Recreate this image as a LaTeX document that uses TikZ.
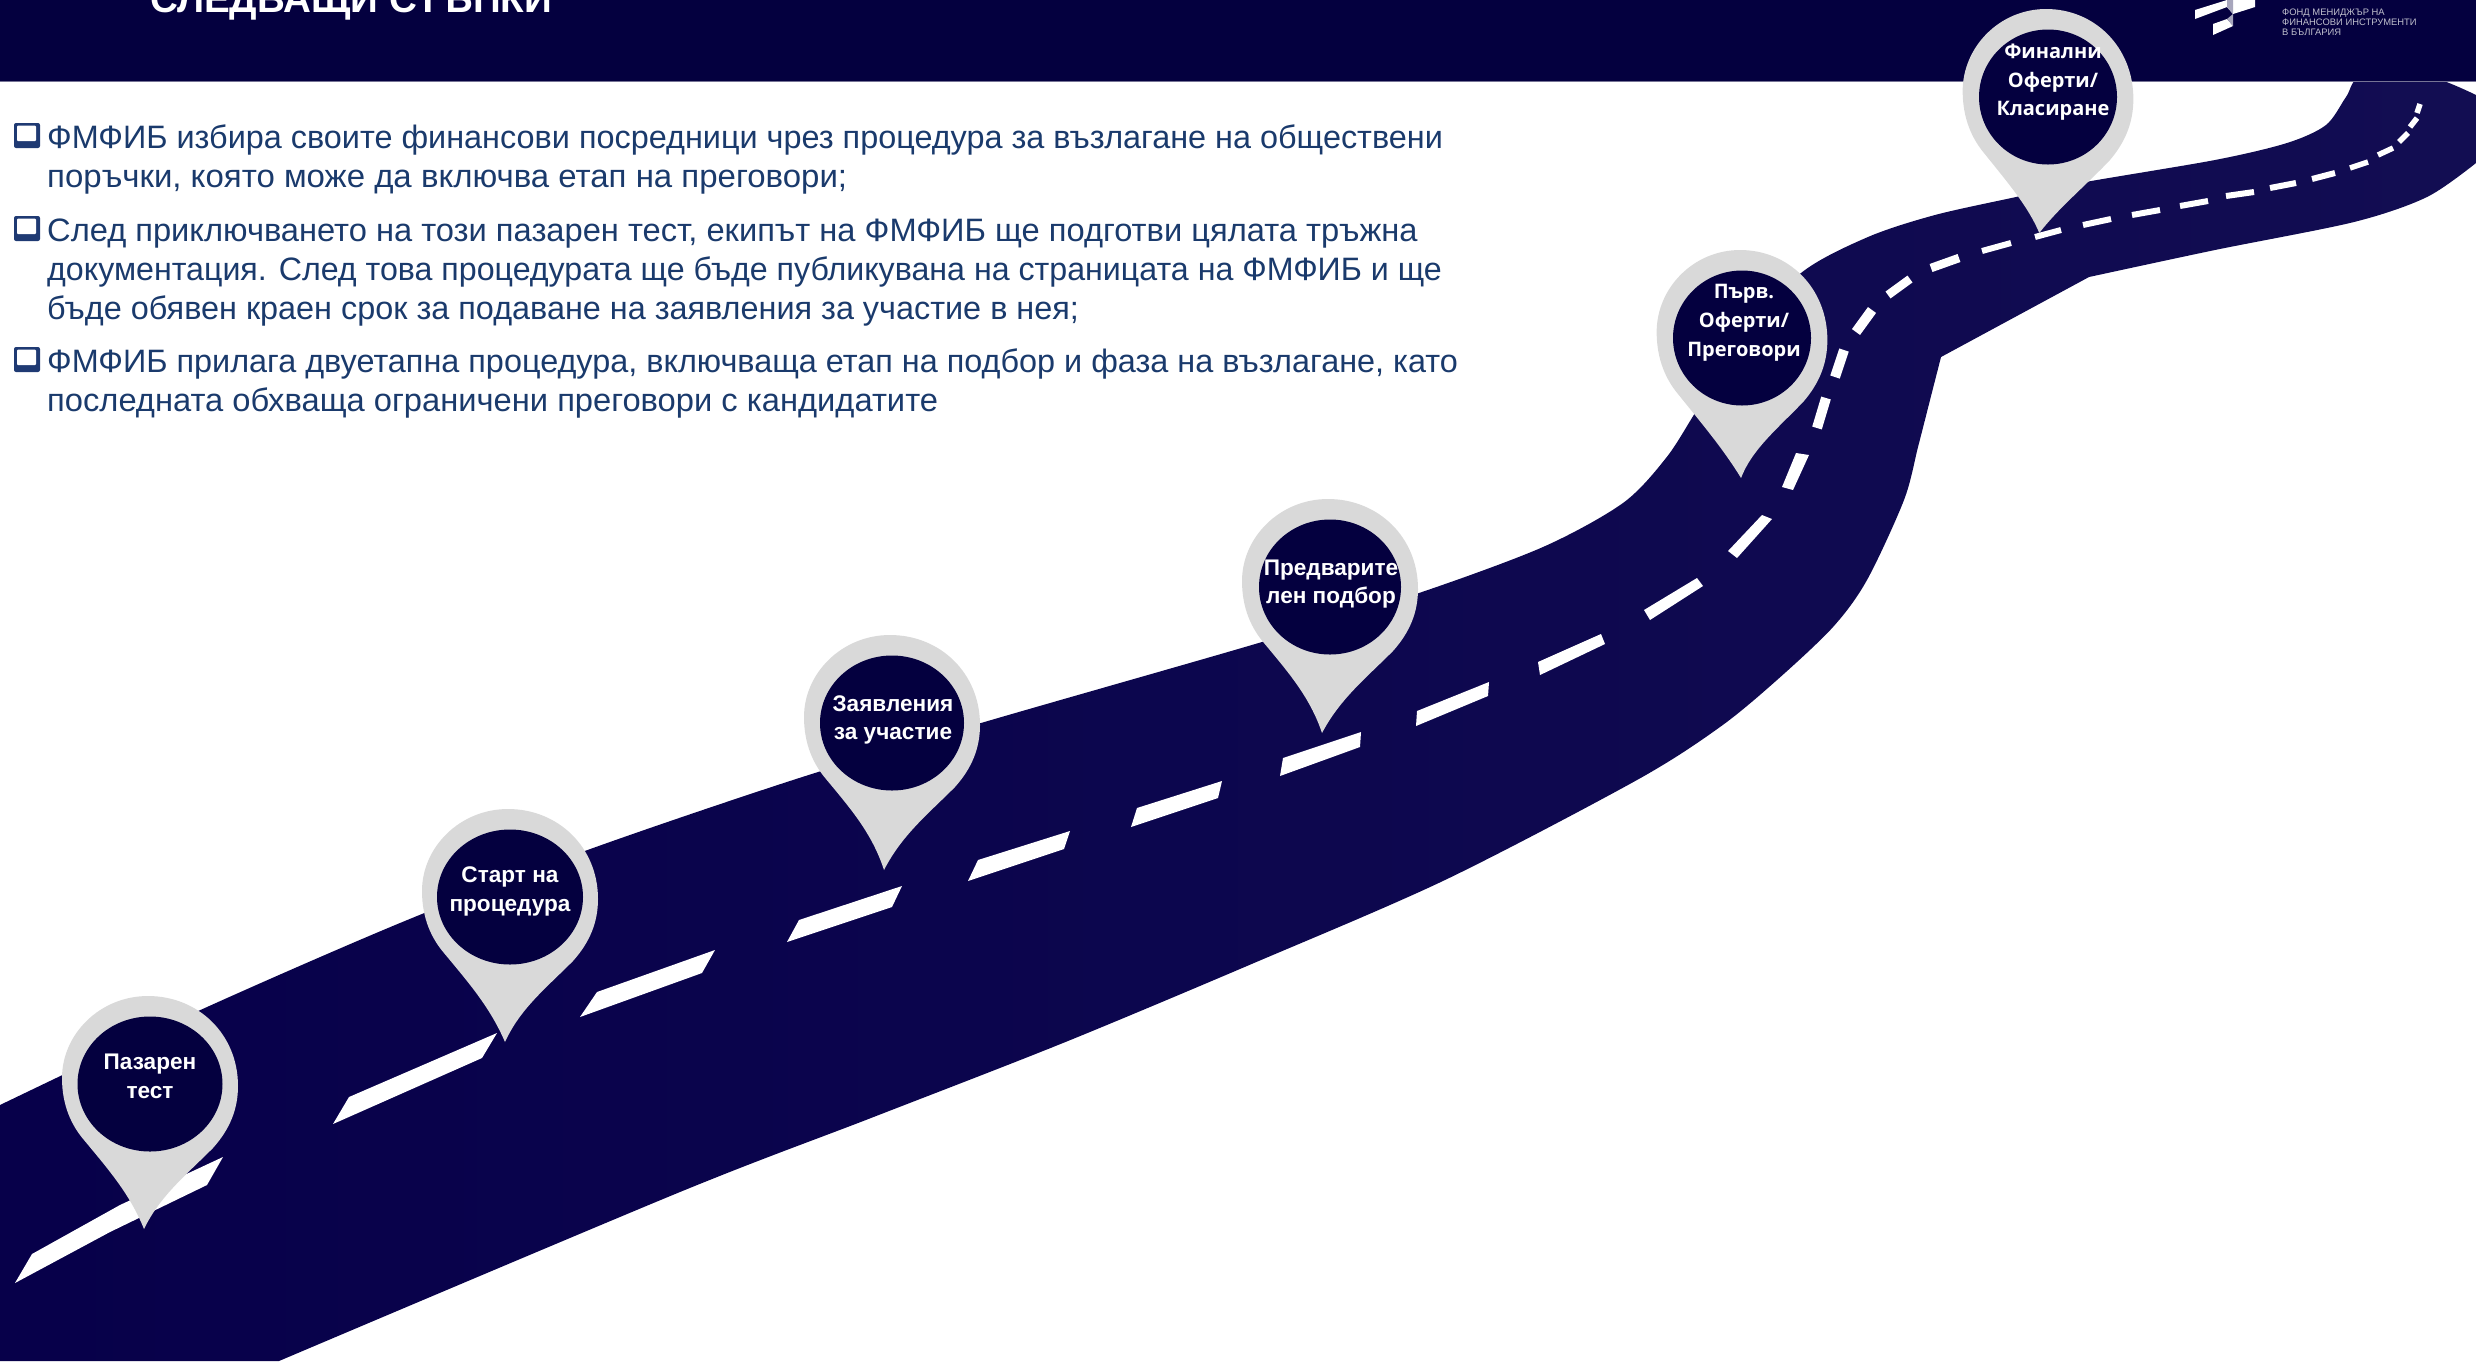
\documentclass[tikz,border=0pt]{standalone}
\usepackage{fontspec}
\setmainfont{Liberation Sans}
\newfontfamily\notof{Open Sans}
\usetikzlibrary{shapes.geometric}
\definecolor{headnavy}{HTML}{04003F}
\definecolor{roadL}{HTML}{07004A}
\definecolor{roadR}{HTML}{120D52}
\definecolor{pingrey}{HTML}{D9D9D9}
\definecolor{bodyblue}{HTML}{1A3A6C}
\definecolor{bulblue}{HTML}{1F3A73}
\definecolor{logogrey}{HTML}{BEBECC}
\tikzset{
  bodyline/.style={anchor=base west,inner sep=0pt,text=bodyblue,font=\fontsize{32.4}{36}\selectfont,transform shape},
  pinlabel/.style={anchor=base,inner sep=0pt,text=white,font=\fontsize{22.6}{28}\selectfont\bfseries},
  pinlabelb/.style={anchor=base,inner sep=0pt,text=white,font=\notof\fontsize{20}{28}\selectfont\bfseries},
  pincore/.style={ellipse,fill=headnavy,inner sep=0pt},
  logoline/.style={anchor=base west,inner sep=0pt,text=logogrey,font=\fontsize{9.4}{12}\selectfont},
  lane/.style={draw=white,line cap=butt},
  lanepoly/.style={fill=white},
}
\newcommand{\pinmark}[7]{%
  \begin{scope}[shift={(#1,#2)},xscale=#3]
    \fill[pingrey] (#4,#5) .. controls (10,112) and (35,92) .. (63,64)
      .. controls (80,45) and (88,25) .. (88,2)
      .. controls (88,-50) and (48,-88) .. (-2,-88)
      .. controls (-50,-88) and (-88,-50) .. (-88,-6)
      .. controls (-88,22) and (-78,42) .. (-66,56)
      .. controls (-42,85) and (-20,110) .. (#4,#5) -- cycle;
  \end{scope}
  \node[pincore,minimum width=#6pt,minimum height=135pt] (#7) at (#1,#2) {};
}
\newcommand{\bulletbox}[2]{%
  \fill[bulblue,rounded corners=2pt] (#1,#2) rectangle (#1+26,#2+25);
  \fill[white,rounded corners=1pt] (#1+3,#2+2.5) rectangle (#1+22,#2+18);
}
\begin{document}
\begin{tikzpicture}[x=1pt,y=-1pt]
\useasboundingbox (0,0) rectangle (2476,1361);
% road
\shade[left color=roadL,right color=roadR]
  plot[smooth,tension=.5] coordinates {(0,1105) (196,1012) (400,923) (582,852) (793,780) (981,723) (1262,642) (1419,593) (1543,547) (1623,503) (1666,458) (1695,413) (1740,340) (1801,273) (1868,237) (1935,215) (2016,197) (2080,183) (2215,160) (2287,143) (2326,125) (2346,97) (2362,76) (2427,76) (2476,95)}
  -- (2476,163)
  -- plot[smooth,tension=.5] coordinates {(2476,163) (2427,197) (2354,222) (2215,250) (2089,277)}
  -- (1941,357)
  -- plot[smooth,tension=.5] coordinates {(1941,357) (1930,400) (1918,447) (1904,500) (1867,580) (1833,627) (1777,680) (1720,727) (1637,780) (1445,880) (1254,963) (1063,1043) (871,1118) (680,1192) (279,1361)}
  -- (0,1361) -- cycle;
% header
\fill[headnavy] (0,0) rectangle (2476,81);
\draw[color=headnavy!55!white,line width=1.2pt] (0,81.5) -- (2476,81.5);
% title
\node[anchor=base west,inner sep=0pt,text=white,font=\fontsize{38.6}{44}\selectfont\bfseries] (title) at (150,12) {СЛЕДВАЩИ СТЪПКИ};
% logo
\fill[white] (2195,10) -- (2227,0) -- (2227,7) -- (2195,19) -- cycle;
\fill[white] (2233,0) -- (2255,0) -- (2255,7) -- (2233,14) -- (2227,7) -- cycle;
\fill[white!65!headnavy] (2227,0) -- (2233,0) -- (2233,14) -- (2227,7) -- cycle;
\fill[white] (2213,24) -- (2227,19) -- (2233,26) -- (2213,35) -- cycle;
\fill[white!65!headnavy] (2227,19) -- (2233,14) -- (2233,26) -- cycle;
\node[logoline] (logoa) at (2282,15.5) {ФОНД МЕНИДЖЪР НА};
\node[logoline] (logob) at (2282,25.5) {ФИНАНСОВИ ИНСТРУМЕНТИ};
\node[logoline] (logoc) at (2282,35.5) {В БЪЛГАРИЯ};
% bullets
\bulletbox{14}{123}
\bulletbox{14}{216}
\bulletbox{14}{347}
% body
\node[bodyline] (l1) at (47,148) {ФМФИБ избира своите финансови посредници чрез процедура за възлагане на обществени};
\node[bodyline,xscale=1.018] (l2) at (47,187) {поръчки, която може да включва етап на преговори;};
\node[bodyline,xscale=1.008] (l3) at (47,241) {След приключването на този пазарен тест, екипът на ФМФИБ ще подготви цялата тръжна};
\node[bodyline,xscale=.993] (l4) at (47,280) {документация. След това процедурата ще бъде публикувана на страницата на ФМФИБ и ще};
\node[bodyline] (l5) at (47,319) {бъде обявен краен срок за подаване на заявления за участие в нея;};
\node[bodyline] (l6) at (47,372) {ФМФИБ прилага двуетапна процедура, включваща етап на подбор и фаза на възлагане, като};
\node[bodyline,xscale=1.009] (l7) at (47,411) {последната обхваща ограничени преговори с кандидатите};
% lane dashes, lower part
\fill[lanepoly] (15,1283) -- (32,1254) -- (120,1205) -- (223,1157) -- (207,1185) -- (110,1232) -- cycle;
\fill[lanepoly] (333,1124) -- (349,1097) -- (497,1033) -- (482,1058) -- cycle;
\fill[lanepoly] (580,1017) -- (597,992) -- (715,950) -- (702,973) -- cycle;
\fill[lanepoly] (787,942) -- (799,920) -- (902,886) -- (892,907) -- cycle;
\fill[lanepoly] (968,881) -- (978,860) -- (1070,831) -- (1064,849) -- cycle;
\fill[lanepoly] (1131,827) -- (1137,808) -- (1222,781) -- (1218,798) -- cycle;
\fill[lanepoly] (1280,776) -- (1283,758) -- (1361,732) -- (1360,747) -- cycle;
\fill[lanepoly] (1416,726) -- (1417,711) -- (1489,682) -- (1488,696) -- cycle;
\fill[lanepoly] (1540,675) -- (1538,662) -- (1601,634) -- (1605,644) -- cycle;
\fill[lanepoly] (1650,620) -- (1644,610) -- (1697,578) -- (1703,586) -- cycle;
\fill[lanepoly] (1737,558) -- (1728,551) -- (1762,515) -- (1772,519) -- cycle;
\fill[lanepoly] (1793,490) -- (1782,487) -- (1796,453) -- (1809,455) -- cycle;
% lane dashes, upper part
\foreach \a/\b/\c/\d in {1817/428/1826/398,1835/377/1844/350,1856/332/1872/310}
  \draw[lane,line width=10pt] (\a,\b) -- (\c,\d);
\foreach \a/\b/\c/\d in {1888/295/1910/279,1931/268/1959/258}
  \draw[lane,line width=8.5pt] (\a,\b) -- (\c,\d);
\foreach \a/\b/\c/\d in {1982/251/2011/243,2035/237/2061/230,2083/225/2111/219,2132/215/2160/210,2180/206/2208/201,2226/196/2254/192,2270/188/2296/183,2312/179/2335/173}
  \draw[lane,line width=6pt] (\a,\b) -- (\c,\d);
\foreach \a/\b/\c/\d in {2350/168/2368/162,2378/155/2393/148,2399/142/2408/133,2410/127/2417/118,2417/113/2420/104}
  \draw[lane,line width=5.5pt] (\a,\b) -- (\c,\d);
% pins
\pinmark{150}{1084}{1}{-6}{145}{145}{pina}
\pinmark{510}{897}{1}{-5}{145}{146}{pinb}
\pinmark{892}{723}{1}{-8}{147}{144}{pinc}
\pinmark{1330}{587}{1}{-8}{146}{142}{pind}
\pinmark{1742}{338}{.97}{-1}{140}{138}{pine}
\pinmark{2048}{97}{.97}{-9}{136}{138}{pinf}
% pin labels
\node[pinlabel] (ta1) at (150,1069) {Пазарен};
\node[pinlabel] (ta2) at (150,1098) {тест};
\node[pinlabel] (tb1) at (510,882) {Старт на};
\node[pinlabel] (tb2) at (510,911) {процедура};
\node[pinlabel] (tc1) at (893,711) {Заявления};
\node[pinlabel] (tc2) at (893,739) {за участие};
\node[pinlabel] (td1) at (1331,575) {Предварите};
\node[pinlabel] (td2) at (1331,603) {лен подбор};
\node[pinlabelb] (te1) at (1744,298) {Първ.};
\node[pinlabelb] (te2) at (1744,327) {Оферти/};
\node[pinlabelb] (te3) at (1744,356) {Преговори};
\node[pinlabelb] (tf1) at (2053,58) {Финални};
\node[pinlabelb] (tf2) at (2053,87) {Оферти/};
\node[pinlabelb] (tf3) at (2053,115) {Класиране};
\end{tikzpicture}
\end{document}
